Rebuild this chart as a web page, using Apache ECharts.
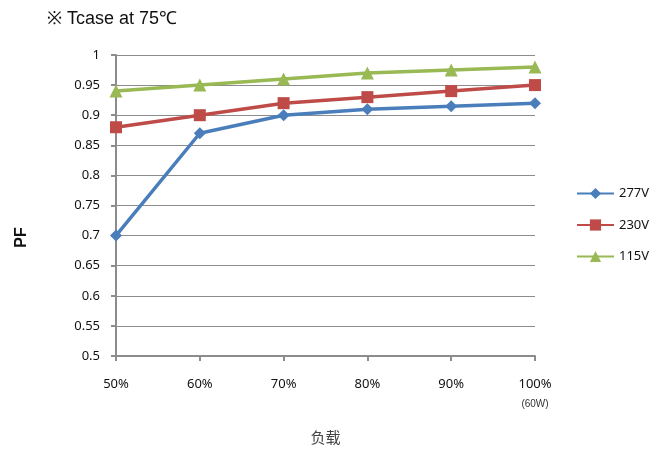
<!DOCTYPE html>
<html><head><meta charset="utf-8">
<script src="https://cdn.jsdelivr.net/npm/echarts@6/dist/echarts.min.js"></script>
<style>html,body{margin:0;padding:0;background:#fff}#c{width:670px;height:450px}</style>
</head><body><div id="c"></div>
<script>
const categories = ['50%', '60%', '70%', '80%', '90%', '100%'];
const v277 = [0.70, 0.87, 0.90, 0.91, 0.915, 0.92];
const v230 = [0.88, 0.90, 0.92, 0.93, 0.94, 0.95];
const v115 = [0.94, 0.95, 0.96, 0.97, 0.975, 0.98];
const seriesNames = ['277V', '230V', '115V'];
const colors = ['#4A7EBB', '#BE4B48', '#98B954'];
const symbols = ['diamond', 'rect', 'triangle'];
const values = [v277, v230, v115];

const chart = echarts.init(document.getElementById('c'));
chart.setOption({
  animation: false,
  title: {
    text: '※ Tcase at 75℃', left: 42, top: 5,
    textStyle: { fontFamily: 'Liberation Sans', fontSize: 18, fontWeight: 'normal', color: '#111' }
  },
  legend: {
    orient: 'vertical', left: 571, top: 182, itemGap: 18.5, itemWidth: 37, itemHeight: 14,
    data: seriesNames,
    textStyle: { fontFamily: 'Noto Sans', fontSize: 13, color: '#111' }
  },
  grid: { left: 116, right: 135, top: 55, bottom: 94, containLabel: false },
  xAxis: {
    type: 'category', data: categories, boundaryGap: false,
    name: '负载', nameLocation: 'middle', nameGap: 74,
    nameTextStyle: { fontFamily: 'Noto Sans CJK SC', fontSize: 15, color: '#444' },
    axisLine: { lineStyle: { color: '#8c8c8c', width: 2 } },
    axisTick: { show: true, alignWithLabel: true, length: 5, lineStyle: { color: '#8c8c8c', width: 2 } },
    axisLabel: {
      margin: 22, color: '#111', fontFamily: 'Noto Sans', fontSize: 13,
      formatter: function (v, i) { return i === categories.length - 1 ? v + '\n{s|(60W)}' : v; },
      rich: { s: { fontSize: 10, color: '#333', lineHeight: 26, fontFamily: 'Liberation Sans' } }
    },
    splitLine: { show: false }
  },
  yAxis: {
    type: 'value', min: 0.5, max: 1, interval: 0.05,
    name: 'PF', nameLocation: 'middle', nameGap: 86, nameRotate: 90,
    nameTextStyle: { fontFamily: 'Liberation Sans', fontSize: 16, fontWeight: 'bold', color: '#111', padding: [0, 64, 0, 0] },
    axisLine: { show: true, lineStyle: { color: '#8c8c8c', width: 2 } },
    axisTick: { show: true, length: 5, lineStyle: { color: '#8c8c8c', width: 2 } },
    axisLabel: {
      margin: 16, color: '#111', fontFamily: 'Noto Sans', fontSize: 13,
      formatter: function (v) { return String(Math.round(v * 100) / 100); }
    },
    splitLine: { lineStyle: { color: '#8c8c8c', width: 1 } }
  },
  series: seriesNames.map((n, i) => ({
    name: n, type: 'line', data: values[i],
    symbol: symbols[i], symbolSize: i === 2 ? 13 : 12,
    lineStyle: { color: colors[i], width: 3.5 },
    itemStyle: { color: colors[i] },
    z: 3 - i
  }))
});
</script></body></html>
